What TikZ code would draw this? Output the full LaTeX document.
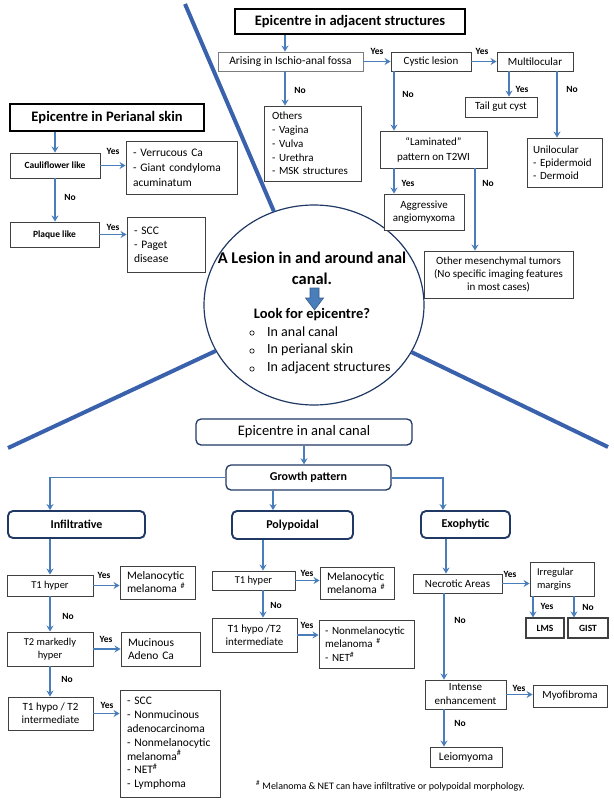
\documentclass[tikz,border=0pt]{standalone}
\usepackage{fontspec}
\setmainfont{Carlito}
\usetikzlibrary{arrows.meta,shapes.geometric}
\definecolor{arrblue}{RGB}{74,126,187}
\definecolor{bigblue}{RGB}{58,98,172}
\definecolor{navy}{RGB}{31,56,100}
\definecolor{boxgray}{RGB}{64,64,64}
\definecolor{lgray}{RGB}{125,125,125}
\definecolor{blockline}{RGB}{56,93,138}
\newcommand{\myfs}[2]{\fontsize{#1}{#2}\selectfont\hyphenpenalty=10000\exhyphenpenalty=10000\relax}
\tikzset{
  box/.style={draw=boxgray, line width=0.9pt, fill=white, inner sep=0pt, align=center, font=\myfs{11}{13}},
  bbox/.style={box, font=\bfseries\myfs{9.5}{13}},
  lbox/.style={box, align=left, inner xsep=7pt, font=\myfs{11.5}{14}},
  titlebox/.style={draw=black, line width=1.4pt, fill=white, inner sep=0pt, font=\bfseries\myfs{14.5}{16}},
  rbox/.style={draw=navy, line width=1.3pt, rounded corners=5pt, fill=white, inner sep=0pt, font=\myfs{14.5}{16}},
  gbox/.style={rbox, line width=1.9pt, font=\bfseries\myfs{12}{14}},
  arr/.style={draw=arrblue, line width=1.5pt, -{Stealth[length=6pt,width=7pt]}},
  lab/.style={font=\bfseries\myfs{9.5}{11}, inner sep=0pt},
  bigline/.style={draw=bigblue, line width=4pt},
  hubtext/.style={font=\bfseries\myfs{16.4}{18}, inner sep=0pt},
  bullettext/.style={anchor=west, font=\myfs{14}{16}, inner sep=0pt},
}
\begin{document}
\hyphenpenalty=10000
\exhyphenpenalty=10000
\begin{tikzpicture}[x=1pt,y=-1pt]
\useasboundingbox (0,0) rectangle (613,800);
% ---------- hub ----------
\node[draw=navy, line width=1.2pt, ellipse, minimum width=220pt, minimum height=200pt, inner sep=0pt] (hub) at (314,305) {};
\coordinate (tl) at (185,4);
\coordinate (bl) at (8,448);
\coordinate (br) at (608,447);
\draw[bigline] (tl) -- (hub);
\draw[bigline] (bl) -- (hub);
\draw[bigline] (br) -- (hub);
\node[hubtext] (h1) at (312,258) {A Lesion in and around anal};
\node[hubtext] (h2) at (312,279) {canal.};
\filldraw[fill=arrblue, draw=blockline, line width=0.6pt] (310,288) -- (319,288) -- (319,298) -- (323.5,298) -- (314.5,310) -- (305.5,298) -- (310,298) -- cycle;
\node[font=\bfseries\myfs{14.5}{16}, inner sep=0pt] (h3) at (312,315) {Look for epicentre?};
\node[bullettext] (b1) at (267,332) {In anal canal};
\node[bullettext] (b2) at (267,350) {In perianal skin};
\node[bullettext] (b3) at (267,368) {In adjacent structures};
\draw[line width=0.6pt] (252,333) circle (2.2pt);
\draw[line width=0.6pt] (252,351) circle (2.2pt);
\draw[line width=0.6pt] (252,369) circle (2.2pt);
% ---------- perianal skin ----------
\node[titlebox, minimum width=194pt, minimum height=27pt] (pskin) at (107,117.5) {Epicentre in Perianal skin};
\node[bbox, minimum width=90pt, minimum height=25pt] (cauli) at (55,165.5) {Cauliflower like};
\node[lbox, font=\myfs{11.5}{15}, text width=97pt, minimum height=53pt] (verr) at (181.5,167.5) {- Verrucous Ca\\- Giant condyloma\\acuminatum};
\node[bbox, minimum width=89pt, minimum height=25pt] (plaque) at (54.5,234.5) {Plaque like};
\node[lbox, text width=64pt, minimum height=55pt] (scc1) at (166,244.5) {- SCC\\- Paget\\disease};
\draw[arr] (cauli.north |- pskin.south) -- (cauli.north);
\draw[arr] (cauli.east) -- (cauli.east -| verr.west);
\node[lab] (ly1) at (113,151) {Yes};
\draw[arr] (cauli.south) -- (cauli.south |- plaque.north);
\node[lab] (ln1) at (70,197) {No};
\draw[arr] (plaque.east) -- (plaque.east -| scc1.west);
\node[lab] (ly2) at (113,227) {Yes};
% ---------- adjacent structures ----------
\node[titlebox, minimum width=230pt, minimum height=25pt] (adj) at (350,21.5) {Epicentre in adjacent structures};
\node[box, draw=lgray, font=\myfs{11.5}{13}, minimum width=145pt, minimum height=19pt] (arising) at (290.5,61.5) {Arising in Ischio-anal fossa};
\node[box, minimum width=80pt, minimum height=19pt] (cystic) at (431,61.5) {Cystic lesion};
\node[box, minimum width=76pt, minimum height=19pt] (multi) at (535,61.5) {Multilocular};
\node[lbox, font=\myfs{11}{13.8}, inner xsep=8pt, text width=81pt, minimum height=75pt] (others) at (312.5,143.5) {Others\\- Vagina\\- Vulva\\- Urethra\\- MSK structures};
\node[box, font=\myfs{11}{15}, minimum width=107pt, minimum height=37pt] (lam) at (433.5,149.5) {“Laminated”\\pattern on T2WI};
\node[box, minimum width=72pt, minimum height=20pt] (tail) at (501,107) {Tail gut cyst};
\node[lbox, font=\myfs{11}{13}, inner xsep=6pt, text width=63pt, minimum height=49pt] (uni) at (564.5,162.5) {Unilocular\\- Epidermoid\\- Dermoid};
\node[box, font=\myfs{11}{13}, minimum width=80pt, minimum height=36pt] (aggr) at (424,212) {Aggressive\\angiomyxoma};
\node[box, font=\myfs{11}{13}, minimum width=149pt, minimum height=47pt] (omes) at (498.5,274.5) {Other mesenchymal tumors\\(No specific imaging features\\in most cases)};
\coordinate (a0) at ([xshift=-5.5pt]arising.north);
\coordinate (a1) at ([xshift=-5.5pt]arising.south);
\draw[arr] (a0 |- adj.south) -- (a0);
\draw[arr] (a1) -- (a1 |- others.north);
\node[lab] (ln2) at (300,90) {No};
\draw[arr] (arising.east) -- (cystic.west);
\node[lab] (ly3) at (377,51) {Yes};
\draw[arr] (cystic.east) -- (multi.west);
\node[lab] (ly4) at (482,51) {Yes};
\coordinate (c1) at ([xshift=-37pt]cystic.south);
\draw[arr] (c1) -- (c1 |- lam.north);
\node[lab] (ln3) at (408,94) {No};
\coordinate (m1) at ([xshift=-26pt]multi.south);
\draw[arr] (m1) -- (m1 |- tail.north);
\node[lab] (ly5) at (522,89) {Yes};
\coordinate (m2) at ([xshift=22pt]multi.south);
\draw[arr] (m2) -- (m2 |- uni.north);
\node[lab] (ln4) at (572,89) {No};
\coordinate (l1) at ([xshift=-39.5pt]lam.south);
\draw[arr] (l1) -- (l1 |- aggr.north);
\node[lab] (ly6) at (408,183) {Yes};
\coordinate (l2) at ([xshift=41.5pt]lam.south);
\draw[arr] (l2) -- (l2 |- omes.north);
\node[lab] (ln5) at (488,183) {No};
% ---------- anal canal ----------
\node[rbox, minimum width=216pt, minimum height=26pt] (anal) at (304,432) {Epicentre in anal canal};
\node[gbox, line width=1.3pt, minimum width=165pt, minimum height=25pt] (growth) at (308.5,477.5) {Growth pattern};
\node[gbox, minimum width=137pt, minimum height=27pt] (infil) at (76.5,524.5) {Infiltrative};
\node[gbox, minimum width=121pt, minimum height=28pt] (polyp) at (292.5,525) {Polypoidal};
\node[gbox, minimum width=89pt, minimum height=27pt] (exo) at (465.5,524.5) {Exophytic};
\draw[arr] (anal.south) -- (anal.south |- growth.north);
\coordinate (gI) at ([xshift=-26.5pt]infil.north);
\draw[arr, line width=1.1pt] (growth.west) -| (gI);
\coordinate (gP) at ([xshift=-19.5pt]polyp.north);
\draw[arr] (gP |- growth.south) -- (gP);
\coordinate (gE) at ([xshift=-22.5pt]exo.north);
\draw[arr, line width=2pt] (growth.east) -| (gE);
% infiltrative column
\node[box, font=\myfs{10.5}{13}, minimum width=86pt, minimum height=21pt] (t1a) at (50,585.5) {T1 hyper};
\node[lbox, font=\myfs{11.5}{13}, text width=61pt, minimum height=33pt] (mel1) at (157.5,582.5) {Melanocytic\\melanoma \textsuperscript{\#}};
\node[box, font=\myfs{10.5}{13}, minimum width=86pt, minimum height=34pt] (t2a) at (50,649) {T2 markedly\\hyper};
\node[lbox, font=\myfs{11.5}{13}, text width=65pt, minimum height=34pt] (muc) at (160.5,649) {Mucinous\\Adeno Ca};
\node[box, font=\myfs{11}{13}, minimum width=85pt, minimum height=33pt] (t1hypo) at (50.5,713.5) {T1 hypo / T2\\intermediate};
\node[lbox, font=\myfs{11.5}{13.8}, text width=86pt, minimum height=107pt] (scc2) at (170,743.5) {- SCC\\- Nonmucinous\\adenocarcinoma\\- Nonmelanocytic\\melanoma\textsuperscript{\#}\\- NET\textsuperscript{\#}\\- Lymphoma};
\draw[arr] (t1a.north |- infil.south) -- (t1a.north);
\draw[arr] (t1a.east) -- (t1a.east -| mel1.west);
\node[lab] (ly7) at (104,575) {Yes};
\draw[arr] (t1a.south) -- (t2a.north);
\node[lab] (ln6) at (68,616) {No};
\draw[arr] (t2a.east) -- (muc.west);
\node[lab] (ly8) at (106,639) {Yes};
\draw[arr] (t2a.south) -- (t2a.south |- t1hypo.north);
\node[lab] (ln7) at (67,679) {No};
\draw[arr] (t1hypo.east) -- (t1hypo.east -| scc2.west);
\node[lab] (ly9) at (107,705) {Yes};
% polypoidal column
\node[box, font=\myfs{10.5}{13}, minimum width=83pt, minimum height=19pt] (t1b) at (253.5,580.5) {T1 hyper};
\node[lbox, font=\myfs{11.5}{13}, text width=60pt, minimum height=32pt] (mel2) at (357,583) {Melanocytic\\melanoma \textsuperscript{\#}};
\node[box, font=\myfs{11}{13.5}, minimum width=85pt, minimum height=34pt] (t1hypob) at (254.5,635) {T1 hypo /T2\\intermediate};
\node[lbox, font=\myfs{11}{13.5}, inner xsep=6pt, text width=83pt, minimum height=48pt] (nonmel) at (366.5,644) {- Nonmelanocytic\\melanoma \textsuperscript{\#}\\- NET\textsuperscript{\#}};
\coordinate (p1) at ([xshift=9.5pt]t1b.north);
\draw[arr] (p1 |- polyp.south) -- (p1);
\draw[arr] (t1b.east) -- (t1b.east -| mel2.west);
\node[lab] (ly10) at (307,573) {Yes};
\coordinate (p2) at ([xshift=9.5pt]t1b.south);
\draw[arr] (p2) -- (p2 |- t1hypob.north);
\node[lab] (ln8) at (276,605) {No};
\draw[arr] (t1hypob.east) -- (t1hypob.east -| nonmel.west);
\node[lab] (ly11) at (307,625) {Yes};
% exophytic column
\node[box, minimum width=89pt, minimum height=19pt] (necro) at (457.5,583.5) {Necrotic Areas};
\node[lbox, font=\myfs{10.5}{13}, text width=50pt, minimum height=34pt] (irreg) at (562,579) {Irregular\\margins};
\node[bbox, line width=1.2pt, minimum width=38pt, minimum height=20pt] (lms) at (545,628) {LMS};
\node[bbox, line width=1.2pt, minimum width=40pt, minimum height=20pt] (gist) at (588,628) {GIST};
\node[box, font=\myfs{11}{14}, minimum width=81pt, minimum height=29pt] (intense) at (465.5,694.5) {Intense\\enhancement};
\node[box, minimum width=74pt, minimum height=22pt] (myo) at (570,696) {Myofibroma};
\node[box, font=\myfs{11.5}{13}, minimum width=72pt, minimum height=20pt] (leio) at (466,757) {Leiomyoma};
\coordinate (e1) at ([xshift=-11.5pt]necro.north);
\draw[arr] (e1 |- exo.south) -- (e1);
\draw[arr] (necro.east) -- (necro.east -| irreg.west);
\node[lab] (ly12) at (510,574) {Yes};
\coordinate (r1) at ([xshift=-12pt]lms.north);
\draw[arr] (r1 |- irreg.south) -- (r1);
\node[lab] (ly13) at (547,606) {Yes};
\coordinate (r2) at ([xshift=-14pt]gist.north);
\draw[arr] (r2 |- irreg.south) -- (r2);
\node[lab] (ln9) at (588,607) {No};
\coordinate (e2) at ([xshift=-13.5pt]necro.south);
\draw[arr] (e2) -- (e2 |- intense.north);
\node[lab] (ln10) at (460,620) {No};
\draw[arr] (intense.east) -- (intense.east -| myo.west);
\node[lab] (ly14) at (519,688) {Yes};
\coordinate (e3) at ([xshift=-21.5pt]intense.south);
\draw[arr] (e3) -- (e3 |- leio.north);
\node[lab] (ln11) at (460,723) {No};
% footnote
\node[anchor=west, inner sep=0pt, font=\myfs{10}{12}] (fn) at (256,786) {\textsuperscript{\#} Melanoma \& NET can have infiltrative or polypoidal morphology.};
\end{tikzpicture}
\end{document}
